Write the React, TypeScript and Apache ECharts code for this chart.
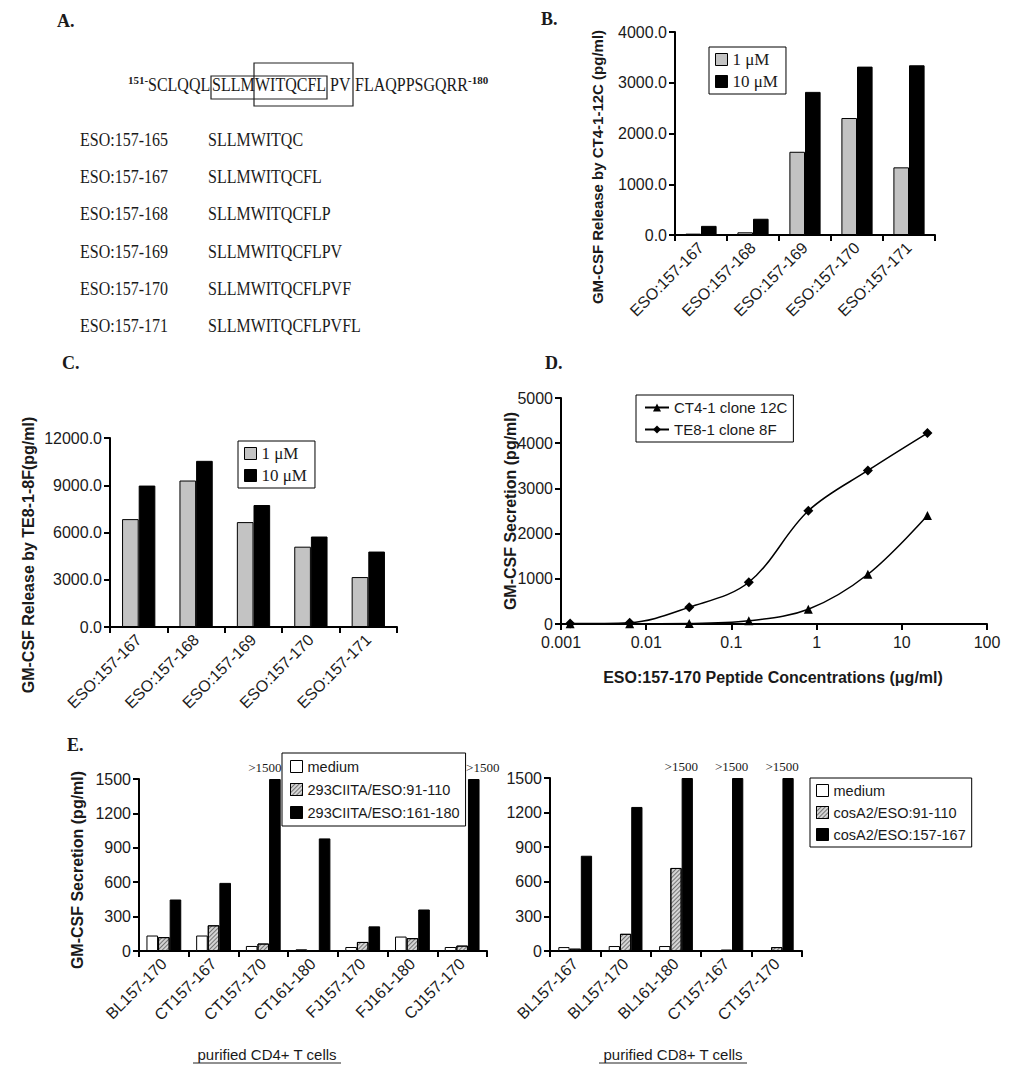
import React, { useEffect, useRef } from "react";
import * as echarts from "echarts";

// ---------- Panel A (peptide table) ----------
const aSupStart = "151-";
const aSupEnd = "-180";
const aSeqPieces = ["SCLQQL", "SLLM", "WITQCFL", "PV", "FLAQPPSGQRR"];
const aRowNames = ["ESO:157-165", "ESO:157-167", "ESO:157-168", "ESO:157-169", "ESO:157-170", "ESO:157-171"];
const aRowSeqs = ["SLLMWITQC", "SLLMWITQCFL", "SLLMWITQCFLP", "SLLMWITQCFLPV", "SLLMWITQCFLPVF", "SLLMWITQCFLPVFL"];

// ---------- Panels B & C ----------
const peptideCats = ["ESO:157-167", "ESO:157-168", "ESO:157-169", "ESO:157-170", "ESO:157-171"];
const doseNames = ["1 μM", "10 μM"];
const bOneMicro = [27, 53, 1640, 2305, 1333];
const bTenMicro = [180, 320, 2820, 3318, 3344];
const cOneMicro = [6850, 9300, 6660, 5100, 3170];
const cTenMicro = [8980, 10550, 7745, 5745, 4790];

// ---------- Panel D ----------
const dConc = [0.00128, 0.0064, 0.032, 0.16, 0.8, 4, 20];
const dCT4 = [5, 5, 10, 70, 325, 1100, 2400];
const dTE8 = [10, 30, 370, 923, 2504, 3397, 4225];
const dNames = ["CT4-1 clone 12C", "TE8-1 clone 8F"];
const dTickLabels = ["0.001", "0.01", "0.1", "1", "10", "100"];

// ---------- Panel E ----------
const eCD4Cats = ["BL157-170", "CT157-167", "CT157-170", "CT161-180", "FJ157-170", "FJ161-180", "CJ157-170"];
const eCD4Names = ["medium", "293CIITA/ESO:91-110", "293CIITA/ESO:161-180"];
const eCD4Medium = [135, 135, 44, 15, 35, 126, 35];
const eCD4Eso91 = [121, 224, 65, 3, 79, 112, 47];
const eCD4Eso161 = [449, 594, 1500, 982, 215, 362, 1500];
const eCD8Cats = ["BL157-167", "BL157-170", "BL161-180", "CT157-167", "CT157-170"];
const eCD8Names = ["medium", "cosA2/ESO:91-110", "cosA2/ESO:157-167"];
const eCD8Medium = [34, 43, 43, 0, 0];
const eCD8Eso91 = [20, 149, 720, 11, 34];
const eCD8Eso157 = [826, 1249, 1500, 1500, 1500];
const eCap = 1500;
const eOverLabel = ">1500";

const SANS = '"Liberation Sans", Arial, sans-serif';
const SERIF = '"Liberation Serif", "Times New Roman", serif';
const INK = "#1a1a1a";

function txt(text: string, x: number, y: number, o: any = {}) {
  return {
    type: "text",
    x,
    y,
    rotation: o.rotation || 0,
    scaleY: o.scaleY || 1,
    silent: true,
    style: {
      text,
      fill: o.fill || INK,
      fontSize: o.fontSize || 16,
      fontFamily: o.fontFamily || SERIF,
      fontWeight: o.fontWeight || "normal",
      align: o.align || "left",
      verticalAlign: "middle",
      textAlign: o.align || "left",
      textVerticalAlign: "middle",
    },
  };
}

function catX(gridIndex: number, data: string[], rotate = 45, fontSize = 16) {
  return {
    type: "category",
    gridIndex,
    data,
    axisLine: { show: true, onZero: true, lineStyle: { color: "#000", width: 2 } },
    axisTick: { show: true, length: 6, lineStyle: { color: "#000", width: 2 } },
    splitLine: { show: false },
    axisLabel: { interval: 0, rotate, margin: 10, color: INK, fontFamily: SANS, fontSize },
  };
}

function valY(gridIndex: number, max: number, interval: number, fmt: (v: number) => string) {
  return {
    type: "value",
    gridIndex,
    min: 0,
    max,
    interval,
    axisLine: { show: true, lineStyle: { color: "#000", width: 2 } },
    axisTick: { show: true, length: 6, lineStyle: { color: "#000", width: 2 } },
    splitLine: { show: false },
    axisLabel: { margin: 8, color: INK, fontFamily: SANS, fontSize: 16, formatter: fmt },
  };
}

const grayBar = { color: "#c3c3c3", borderColor: "#000", borderWidth: 1 };
const blackBar = { color: "#000", borderColor: "#000", borderWidth: 1 };
const whiteBar = { color: "#fff", borderColor: "#000", borderWidth: 1 };
const hatchBar = {
  color: "#d4d4d4",
  borderColor: "#000",
  borderWidth: 1,
  decal: {
    symbol: "rect",
    symbolSize: 1,
    dashArrayX: [1, 0],
    dashArrayY: [1, 2],
    rotation: -Math.PI / 4,
    color: "rgba(0,0,0,0.45)",
  },
};

function bar(name: string, idx: number, data: any[], itemStyle: any, gap: string, extra: any = {}) {
  return {
    type: "bar",
    name,
    xAxisIndex: idx,
    yAxisIndex: idx,
    data,
    itemStyle,
    barGap: "0%",
    barCategoryGap: gap,
    ...extra,
  };
}

function legend(data: string[], left: number, top: number, o: any = {}) {
  const l: any = {
    data,
    left,
    top,
    orient: "vertical",
    selectedMode: false,
    itemWidth: o.itemWidth || 12,
    itemHeight: o.itemHeight || 12,
    itemGap: o.itemGap ?? 4,
    padding: o.padding || [4, 8, 4, 6],
    borderColor: "#000",
    borderWidth: 1,
    backgroundColor: "#fff",
    itemStyle: o.itemStyle || { borderColor: "#000", borderWidth: 1 },
    textStyle: { color: INK, fontFamily: o.fontFamily || SANS, fontSize: o.fontSize || 16 },
  };
  if (o.icon !== null) l.icon = o.icon || "rect";
  return l;
}

// horizontal nudges of the ">1500" labels so they clear the legend boxes
const eCD4LabelShift = [0, 0, -10, 0, 0, 0, 9];
const eCD8LabelShift = [0, 0, -6, -6, -6];

function capped(values: number[], shifts: number[]) {
  return values.map((v, i) => ({ value: v, label: { offset: [shifts[i], 0] } }));
}

function buildOption() {
  const overLabel = {
    label: {
      show: true,
      position: "top",
      distance: 5,
      color: INK,
      fontFamily: SERIF,
      fontSize: 13,
      formatter: (p: any) => (p.value >= eCap ? eOverLabel : ""),
    },
  };

  const seqX = [148, 212, 255, 330, 355];
  const rowY = [140, 177, 214, 252, 289, 326];

  const graphic: any[] = [
    txt("A.", 57, 21, { fontWeight: "bold", fontSize: 18 }),
    txt("B.", 541, 19, { fontWeight: "bold", fontSize: 18 }),
    txt("C.", 62, 363, { fontWeight: "bold", fontSize: 18 }),
    txt("D.", 545, 363, { fontWeight: "bold", fontSize: 18 }),
    txt("E.", 67, 745, { fontWeight: "bold", fontSize: 18 }),
    txt(aSupStart, 128, 80, { fontSize: 11, fontWeight: "bold" }),
    txt(aSupEnd, 468, 80, { fontSize: 11, fontWeight: "bold" }),
    {
      type: "rect",
      shape: { x: 211, y: 76, width: 116, height: 23 },
      style: { fill: "none", stroke: "#222", lineWidth: 1.2 },
    },
    {
      type: "rect",
      shape: { x: 254, y: 63, width: 99, height: 43 },
      style: { fill: "none", stroke: "#222", lineWidth: 1.2 },
    },
    // axis titles
    txt("GM-CSF Release by CT4-1-12C (pg/ml)", 597, 167, { fontFamily: SANS, fontWeight: "bold", fontSize: 15, align: "center", rotation: Math.PI / 2 }),
    txt("GM-CSF Release by TE8-1-8F(pg/ml)", 28, 555, { fontFamily: SANS, fontWeight: "bold", fontSize: 16, align: "center", rotation: Math.PI / 2 }),
    txt("GM-CSF Secretion (pg/ml)", 510, 511, { fontFamily: SANS, fontWeight: "bold", fontSize: 16, align: "center", rotation: Math.PI / 2 }),
    txt("ESO:157-170 Peptide Concentrations (μg/ml)", 773, 677, { fontFamily: SANS, fontWeight: "bold", fontSize: 16, align: "center" }),
    txt("GM-CSF Secretion (pg/ml)", 77, 870, { fontFamily: SANS, fontWeight: "bold", fontSize: 16, align: "center", rotation: Math.PI / 2 }),
    txt("purified CD4+ T cells", 267, 1054, { fontFamily: SANS, fontSize: 15, align: "center" }),
    { type: "line", shape: { x1: 193, y1: 1063, x2: 341, y2: 1063 }, style: { stroke: "#222", lineWidth: 1 } },
    txt("purified CD8+ T cells", 673, 1054, { fontFamily: SANS, fontSize: 15, align: "center" }),
    { type: "line", shape: { x1: 599, y1: 1063, x2: 747, y2: 1063 }, style: { stroke: "#222", lineWidth: 1 } },
  ];
  aSeqPieces.forEach((s, i) => graphic.push(txt(s, seqX[i], 85, { fontSize: 16, scaleY: 1.15 })));
  aRowNames.forEach((s, i) => {
    graphic.push(txt(s, 80, rowY[i], { fontSize: 16, scaleY: 1.15 }));
    graphic.push(txt(aRowSeqs[i], 208, rowY[i], { fontSize: 16, scaleY: 1.15 }));
  });

  return {
    animation: false,
    backgroundColor: "#fff",
    textStyle: { fontFamily: SANS },
    grid: [
      { left: 675, top: 32, width: 260, height: 203, outerBoundsMode: "none" },
      { left: 110, top: 438, width: 287, height: 189, outerBoundsMode: "none" },
      { left: 561, top: 398, width: 426, height: 226, outerBoundsMode: "none" },
      { left: 139, top: 779, width: 348, height: 172, outerBoundsMode: "none" },
      { left: 550, top: 778, width: 252, height: 173, outerBoundsMode: "none" },
    ],
    xAxis: [
      catX(0, peptideCats),
      catX(1, peptideCats),
      {
        type: "log",
        gridIndex: 2,
        logBase: 10,
        min: 0.001,
        max: 100,
        axisLine: { show: true, onZero: true, lineStyle: { color: "#000", width: 2 } },
        axisTick: { show: true, length: 6, lineStyle: { color: "#000", width: 2 } },
        minorTick: { show: false },
        splitLine: { show: false },
        axisLabel: {
          margin: 10,
          color: INK,
          fontFamily: SANS,
          fontSize: 16,
          formatter: (_v: number, i: number) => dTickLabels[i] ?? "",
        },
      },
      catX(3, eCD4Cats),
      catX(4, eCD8Cats),
    ],
    yAxis: [
      valY(0, 4000, 1000, (v) => v.toFixed(1)),
      valY(1, 12000, 3000, (v) => v.toFixed(1)),
      valY(2, 5000, 1000, (v) => String(v)),
      valY(3, 1500, 300, (v) => String(v)),
      valY(4, 1500, 300, (v) => String(v)),
    ],
    legend: [
      legend(doseNames, 709, 47, { fontFamily: SERIF, fontSize: 17, itemGap: 5 }),
      legend(doseNames, 238, 441, { fontFamily: SERIF, fontSize: 17, itemGap: 5 }),
      legend(dNames, 636, 395, {
        icon: null,
        itemWidth: 24,
        itemHeight: 10,
        itemGap: 7,
        fontSize: 15,
        padding: [5, 6, 5, 8],
        itemStyle: { borderWidth: 0 },
      }),
      legend(eCD4Names, 282, 753, { fontSize: 14.5, itemGap: 8, padding: [6, 6, 6, 8] }),
      legend(eCD8Names, 810, 778, { fontSize: 14.5, itemGap: 7, padding: [5, 6, 5, 6] }),
    ],
    series: [
      bar(doseNames[0], 0, bOneMicro, grayBar, "40%"),
      bar(doseNames[1], 0, bTenMicro, blackBar, "40%"),
      bar(doseNames[0], 1, cOneMicro, grayBar, "42%"),
      bar(doseNames[1], 1, cTenMicro, blackBar, "42%"),
      {
        type: "line",
        name: dNames[0],
        xAxisIndex: 2,
        yAxisIndex: 2,
        data: dConc.map((c, i) => [c, dCT4[i]]),
        smooth: 0.35,
        symbol: "triangle",
        symbolSize: 9,
        itemStyle: { color: "#000" },
        lineStyle: { color: "#000", width: 1.5 },
      },
      {
        type: "line",
        name: dNames[1],
        xAxisIndex: 2,
        yAxisIndex: 2,
        data: dConc.map((c, i) => [c, dTE8[i]]),
        smooth: 0.35,
        symbol: "diamond",
        symbolSize: 10,
        itemStyle: { color: "#000" },
        lineStyle: { color: "#000", width: 1.5 },
      },
      bar(eCD4Names[0], 3, eCD4Medium, whiteBar, "30%"),
      bar(eCD4Names[1], 3, eCD4Eso91, hatchBar, "30%"),
      bar(eCD4Names[2], 3, capped(eCD4Eso161, eCD4LabelShift), blackBar, "30%", overLabel),
      bar(eCD8Names[0], 4, eCD8Medium, whiteBar, "33%"),
      bar(eCD8Names[1], 4, eCD8Eso91, hatchBar, "33%"),
      bar(eCD8Names[2], 4, capped(eCD8Eso157, eCD8LabelShift), blackBar, "33%", overLabel),
    ],
    graphic,
  };
}

export default function App() {
  const ref = useRef<HTMLDivElement>(null);
  useEffect(() => {
    if (!ref.current) return;
    const chart = echarts.init(ref.current, null, { renderer: "svg" });
    chart.setOption(buildOption() as any);
    return () => chart.dispose();
  }, []);
  return (
    <div
      ref={ref}
      style={{ position: "absolute", left: 0, top: 0, width: 1017, height: 1073, background: "#fff" }}
    />
  );
}
